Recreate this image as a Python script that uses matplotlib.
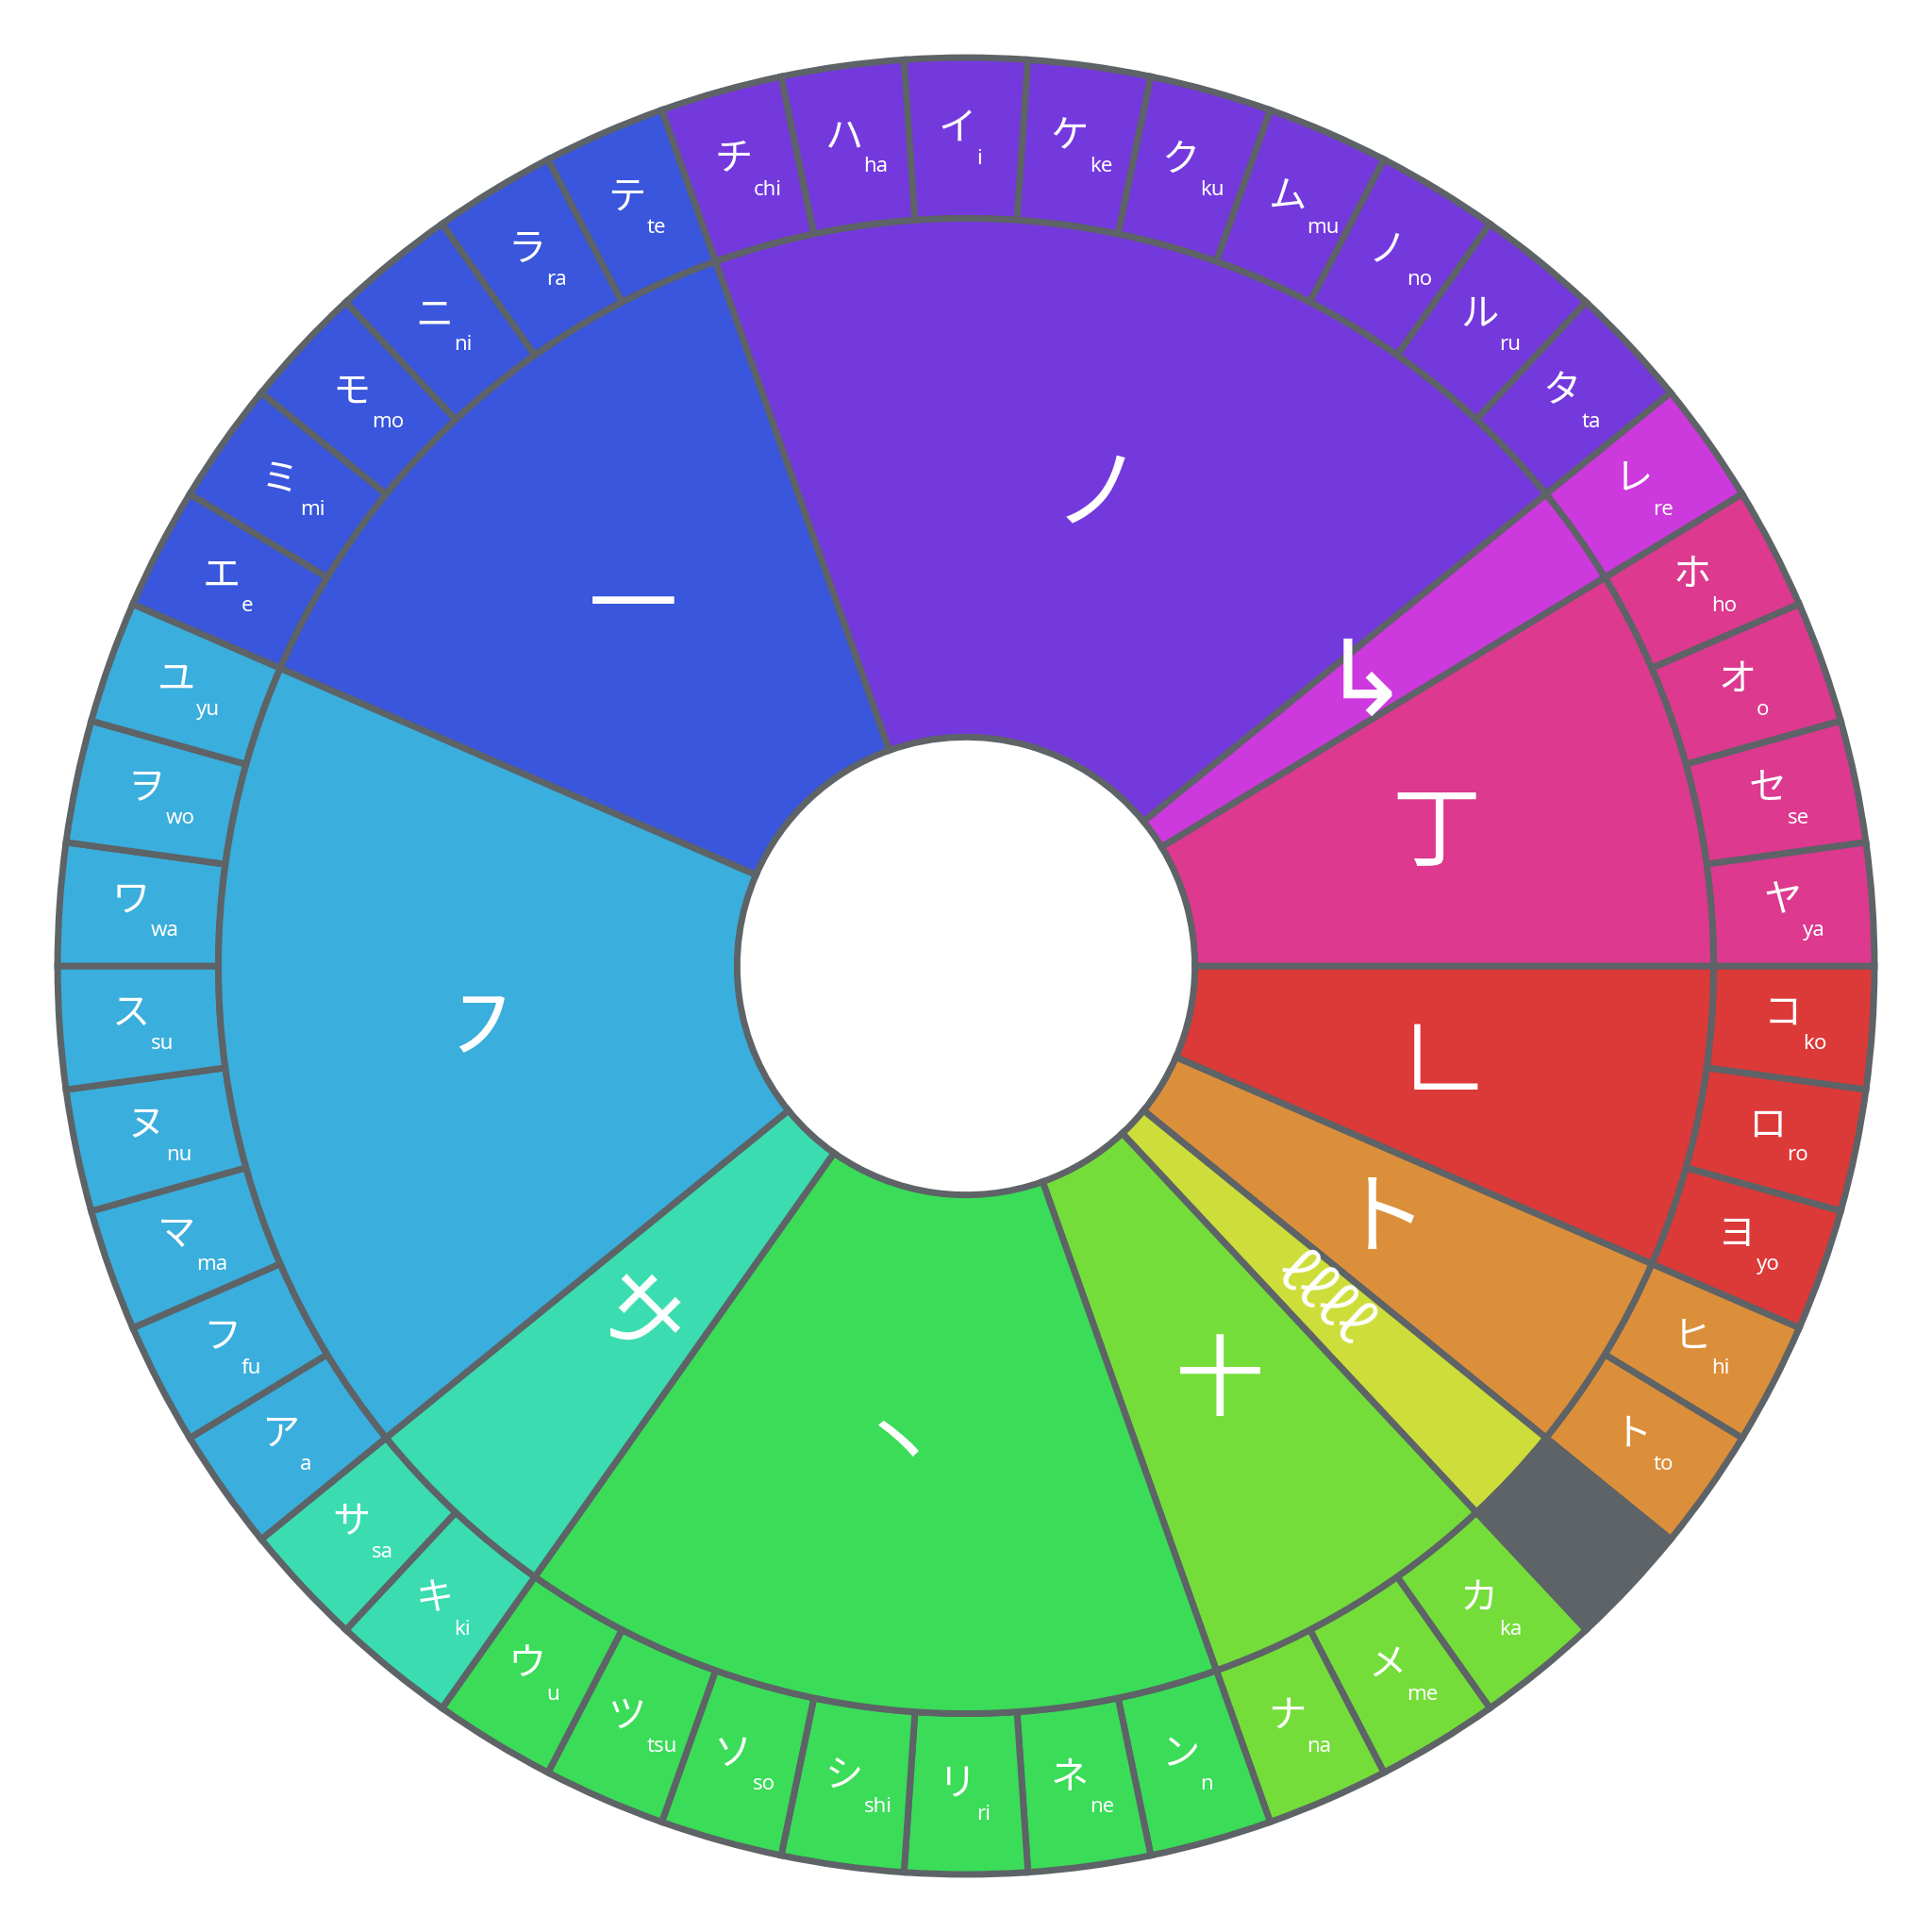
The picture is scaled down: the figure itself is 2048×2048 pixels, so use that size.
import math
import matplotlib
matplotlib.use('Agg')
import matplotlib.pyplot as plt
from matplotlib import font_manager
from matplotlib.ft2font import FT2Font

# katakana grouped by their first stroke, listed clockwise from 3 o'clock
group_strokes = ['⦜', 'ト', 'ℓℓℓℓ', '十', '丶', 'サ', '㇇', '一', 'ノ', '↳', '丁']
group_sizes = [3, 2, 1, 3, 7, 2, 8, 6, 9, 1, 4]
group_colors = ['#dc3939', '#dc8f3a', '#cddd3a', '#74dd3a', '#3adc58', '#3adcb0',
                '#3aaedc', '#3956dc', '#7439dc', '#cc39dc', '#dc398f']

kana = ['コ', 'ロ', 'ヨ', 'ヒ', 'ト', 'ヘ', 'カ', 'メ', 'ナ',
        'ン', 'ネ', 'リ', 'シ', 'ソ', 'ツ', 'ウ', 'キ', 'サ',
        'ア', 'フ', 'マ', 'ヌ', 'ス', 'ワ', 'ヲ', 'ユ',
        'エ', 'ミ', 'モ', 'ニ', 'ラ', 'テ',
        'チ', 'ハ', 'イ', 'ケ', 'ク', 'ム', 'ノ', 'ル', 'タ',
        'レ', 'ホ', 'オ', 'セ', 'ヤ']
romaji = ['ko', 'ro', 'yo', 'hi', 'to', 'he', 'ka', 'me', 'na',
          'n', 'ne', 'ri', 'shi', 'so', 'tsu', 'u', 'ki', 'sa',
          'a', 'fu', 'ma', 'nu', 'su', 'wa', 'wo', 'yu',
          'e', 'mi', 'mo', 'ni', 'ra', 'te',
          'chi', 'ha', 'i', 'ke', 'ku', 'mu', 'no', 'ru', 'ta',
          're', 'ho', 'o', 'se', 'ya']
missing = ['ヘ']  # no picture for this one, drawn as a grey cell

edge = '#5d6366'
jp = ['Noto Sans CJK JP', 'DejaVu Sans']


def has_glyph(ch, family):
    path = font_manager.findfont(font_manager.FontProperties(family=family))
    return ord(ch[0]) in FT2Font(path).get_charmap()


# fall back to plainer signs when a font lacks the stroke glyph
fallback = {'⦜': '∟', '㇇': 'フ'}
strokes = []
for s in group_strokes:
    if s in fallback and not (has_glyph(s, 'Noto Sans CJK JP') or has_glyph(s, 'DejaVu Sans')):
        s = fallback[s]
    strokes.append(s)

outer_colors = []
for c, n in zip(group_colors, group_sizes):
    outer_colors += [c] * n
outer_colors = [edge if k in missing else c for k, c in zip(kana, outer_colors)]

r_hole, r_mid, r_out = 0.252, 0.823, 1.0

fig = plt.figure(figsize=(10.24, 10.24), dpi=200)
ax = fig.add_axes([0, 0, 1, 1])
ax.set_aspect('equal')
ax.axis('off')

wp = dict(edgecolor=edge, linewidth=2.5)
outer, _ = ax.pie([1] * len(kana), radius=r_out, colors=outer_colors, startangle=0,
                  counterclock=False, wedgeprops=dict(width=r_out - r_mid, **wp))
inner, _ = ax.pie(group_sizes, radius=r_mid, colors=group_colors, startangle=0,
                  counterclock=False, wedgeprops=dict(width=r_mid - r_hole, **wp))
lim = 1.0634
ax.set_xlim(-lim, lim)
ax.set_ylim(-lim, lim)

# stroke glyphs in the inner ring
rot = {'サ': -45, 'ℓℓℓℓ': -43}
size = {'ℓℓℓℓ': 22, '↳': 40}
r_in = (r_hole + r_mid) / 2
for w, s in zip(inner, strokes):
    mid = math.radians((w.theta1 + w.theta2) / 2)
    ax.text(r_in * math.cos(mid), r_in * math.sin(mid), s, ha='center', va='center',
            color='white', family=jp, fontsize=size.get(s, 34), rotation=rot.get(s, 0))

# katakana with romaji in the outer ring
r_lab = (r_mid + r_out) / 2
for w, k, rom in zip(outer, kana, romaji):
    if k in missing:
        continue
    mid = math.radians((w.theta1 + w.theta2) / 2)
    xy = (r_lab * math.cos(mid), r_lab * math.sin(mid))
    ax.annotate(k, xy, xytext=(-3.5, 3.5), textcoords='offset points', ha='center',
                va='center', color='white', family=jp, fontsize=14.5)
    ax.annotate(rom, xy, xytext=(4, -8), textcoords='offset points', ha='left',
                va='center', color='white', family='Noto Sans', fontsize=8)

fig.savefig('out.png', dpi=200, facecolor='white')
